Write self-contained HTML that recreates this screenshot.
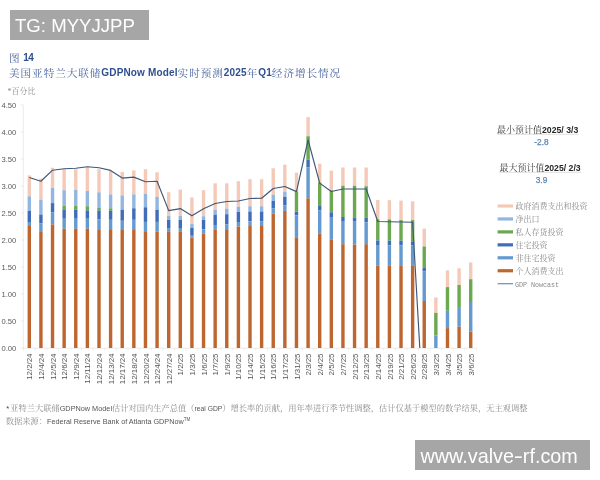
<!DOCTYPE html>
<html lang="zh"><head><meta charset="utf-8"><title>图 14</title>
<style>
html,body{margin:0;padding:0;background:#fff;}
body{width:600px;height:480px;overflow:hidden;position:relative;font-family:"Liberation Sans","Noto Serif CJK SC",sans-serif;}
svg{position:absolute;left:0;top:0;}
.wm1{position:absolute;left:10px;top:10px;width:138.5px;height:30px;background:#a6a6a6;color:#fff;font:18.6px/31px "Liberation Sans",sans-serif;box-sizing:border-box;padding-left:5px;white-space:nowrap;}
.wm2{position:absolute;left:415px;top:440px;width:175px;height:29.5px;overflow:hidden;background:#a6a6a6;color:#fff;font:19.8px/32.6px "Liberation Sans",sans-serif;box-sizing:border-box;padding-left:5.5px;white-space:nowrap;}
.t{position:absolute;left:9px;white-space:nowrap;color:#46639c;font-family:"Noto Serif CJK SC","Liberation Serif",serif;font-size:10.6px;letter-spacing:0.95px;line-height:14px;font-weight:400;}
.t b{font-family:"Liberation Sans",sans-serif;font-weight:700;font-size:10px;color:#2f4f8f;letter-spacing:0.15px;position:relative;top:-0.8px;}
.unit{position:absolute;left:7.5px;top:85.8px;font-family:"Liberation Serif","Noto Serif CJK SC",serif;font-size:8px;line-height:12px;color:#8a8a8a;white-space:nowrap;}
.fn{position:absolute;left:7px;white-space:nowrap;font-family:"Noto Serif CJK SC","Liberation Serif",serif;font-size:8.25px;line-height:12px;color:#8c8c8c;}
.fn span{font-family:"Liberation Sans",sans-serif;font-size:7.3px;color:#555;}
.fn sup{font-size:4.5px;vertical-align:3px;line-height:0;}
.yl{font-family:"Liberation Sans",sans-serif;font-size:7.6px;fill:#595959;}
.xl{font-family:"Liberation Sans",sans-serif;font-size:7.9px;fill:#555;}
.lg{font-family:"Noto Serif CJK SC","Liberation Serif",serif;font-size:8px;fill:#8a8a8a;}
.lgm{font-family:"Liberation Mono",monospace;font-size:7.6px;fill:#8a8a8a;}
.rt{position:absolute;white-space:nowrap;font-family:"Noto Serif CJK SC","Liberation Serif",serif;font-size:9px;line-height:11px;color:#3a3a3a;text-align:center;}
.rt b{font-family:"Liberation Sans",sans-serif;font-weight:700;font-size:8.7px;color:#262626;}
.rv{position:absolute;white-space:nowrap;font-family:"Liberation Sans",sans-serif;font-size:8.3px;line-height:10px;color:#5b84b1;-webkit-text-stroke:0.25px #5b84b1;text-align:center;width:40px;}
</style></head>
<body>
<svg width="600" height="480" viewBox="0 0 600 480">
<line x1="23.3" y1="105" x2="23.3" y2="348" stroke="#e6e6e6" stroke-width="0.8"/>
<line x1="23.3" y1="348.2" x2="476.5" y2="348.2" stroke="#e6e6e6" stroke-width="0.8"/>
<line x1="20.6" y1="348" x2="23.3" y2="348" stroke="#e6e6e6" stroke-width="0.8"/>
<text x="16.2" y="350.8" text-anchor="end" class="yl">0.00</text>
<line x1="20.6" y1="321" x2="23.3" y2="321" stroke="#e6e6e6" stroke-width="0.8"/>
<text x="16.2" y="323.8" text-anchor="end" class="yl">0.50</text>
<line x1="20.6" y1="294" x2="23.3" y2="294" stroke="#e6e6e6" stroke-width="0.8"/>
<text x="16.2" y="296.8" text-anchor="end" class="yl">1.00</text>
<line x1="20.6" y1="267" x2="23.3" y2="267" stroke="#e6e6e6" stroke-width="0.8"/>
<text x="16.2" y="269.8" text-anchor="end" class="yl">1.50</text>
<line x1="20.6" y1="240" x2="23.3" y2="240" stroke="#e6e6e6" stroke-width="0.8"/>
<text x="16.2" y="242.8" text-anchor="end" class="yl">2.00</text>
<line x1="20.6" y1="213" x2="23.3" y2="213" stroke="#e6e6e6" stroke-width="0.8"/>
<text x="16.2" y="215.8" text-anchor="end" class="yl">2.50</text>
<line x1="20.6" y1="186" x2="23.3" y2="186" stroke="#e6e6e6" stroke-width="0.8"/>
<text x="16.2" y="188.8" text-anchor="end" class="yl">3.00</text>
<line x1="20.6" y1="159" x2="23.3" y2="159" stroke="#e6e6e6" stroke-width="0.8"/>
<text x="16.2" y="161.8" text-anchor="end" class="yl">3.50</text>
<line x1="20.6" y1="132" x2="23.3" y2="132" stroke="#e6e6e6" stroke-width="0.8"/>
<text x="16.2" y="134.8" text-anchor="end" class="yl">4.00</text>
<line x1="20.6" y1="105" x2="23.3" y2="105" stroke="#e6e6e6" stroke-width="0.8"/>
<text x="16.2" y="107.8" text-anchor="end" class="yl">4.50</text>
<line x1="23.49" y1="348" x2="23.49" y2="350.5" stroke="#e6e6e6" stroke-width="0.8"/>
<line x1="35.11" y1="348" x2="35.11" y2="350.5" stroke="#e6e6e6" stroke-width="0.8"/>
<line x1="46.72" y1="348" x2="46.72" y2="350.5" stroke="#e6e6e6" stroke-width="0.8"/>
<line x1="58.34" y1="348" x2="58.34" y2="350.5" stroke="#e6e6e6" stroke-width="0.8"/>
<line x1="69.96" y1="348" x2="69.96" y2="350.5" stroke="#e6e6e6" stroke-width="0.8"/>
<line x1="81.57" y1="348" x2="81.57" y2="350.5" stroke="#e6e6e6" stroke-width="0.8"/>
<line x1="93.19" y1="348" x2="93.19" y2="350.5" stroke="#e6e6e6" stroke-width="0.8"/>
<line x1="104.80" y1="348" x2="104.80" y2="350.5" stroke="#e6e6e6" stroke-width="0.8"/>
<line x1="116.42" y1="348" x2="116.42" y2="350.5" stroke="#e6e6e6" stroke-width="0.8"/>
<line x1="128.04" y1="348" x2="128.04" y2="350.5" stroke="#e6e6e6" stroke-width="0.8"/>
<line x1="139.65" y1="348" x2="139.65" y2="350.5" stroke="#e6e6e6" stroke-width="0.8"/>
<line x1="151.27" y1="348" x2="151.27" y2="350.5" stroke="#e6e6e6" stroke-width="0.8"/>
<line x1="162.88" y1="348" x2="162.88" y2="350.5" stroke="#e6e6e6" stroke-width="0.8"/>
<line x1="174.50" y1="348" x2="174.50" y2="350.5" stroke="#e6e6e6" stroke-width="0.8"/>
<line x1="186.12" y1="348" x2="186.12" y2="350.5" stroke="#e6e6e6" stroke-width="0.8"/>
<line x1="197.73" y1="348" x2="197.73" y2="350.5" stroke="#e6e6e6" stroke-width="0.8"/>
<line x1="209.35" y1="348" x2="209.35" y2="350.5" stroke="#e6e6e6" stroke-width="0.8"/>
<line x1="220.96" y1="348" x2="220.96" y2="350.5" stroke="#e6e6e6" stroke-width="0.8"/>
<line x1="232.58" y1="348" x2="232.58" y2="350.5" stroke="#e6e6e6" stroke-width="0.8"/>
<line x1="244.20" y1="348" x2="244.20" y2="350.5" stroke="#e6e6e6" stroke-width="0.8"/>
<line x1="255.81" y1="348" x2="255.81" y2="350.5" stroke="#e6e6e6" stroke-width="0.8"/>
<line x1="267.43" y1="348" x2="267.43" y2="350.5" stroke="#e6e6e6" stroke-width="0.8"/>
<line x1="279.04" y1="348" x2="279.04" y2="350.5" stroke="#e6e6e6" stroke-width="0.8"/>
<line x1="290.66" y1="348" x2="290.66" y2="350.5" stroke="#e6e6e6" stroke-width="0.8"/>
<line x1="302.28" y1="348" x2="302.28" y2="350.5" stroke="#e6e6e6" stroke-width="0.8"/>
<line x1="313.89" y1="348" x2="313.89" y2="350.5" stroke="#e6e6e6" stroke-width="0.8"/>
<line x1="325.51" y1="348" x2="325.51" y2="350.5" stroke="#e6e6e6" stroke-width="0.8"/>
<line x1="337.12" y1="348" x2="337.12" y2="350.5" stroke="#e6e6e6" stroke-width="0.8"/>
<line x1="348.74" y1="348" x2="348.74" y2="350.5" stroke="#e6e6e6" stroke-width="0.8"/>
<line x1="360.36" y1="348" x2="360.36" y2="350.5" stroke="#e6e6e6" stroke-width="0.8"/>
<line x1="371.97" y1="348" x2="371.97" y2="350.5" stroke="#e6e6e6" stroke-width="0.8"/>
<line x1="383.59" y1="348" x2="383.59" y2="350.5" stroke="#e6e6e6" stroke-width="0.8"/>
<line x1="395.20" y1="348" x2="395.20" y2="350.5" stroke="#e6e6e6" stroke-width="0.8"/>
<line x1="406.82" y1="348" x2="406.82" y2="350.5" stroke="#e6e6e6" stroke-width="0.8"/>
<line x1="418.44" y1="348" x2="418.44" y2="350.5" stroke="#e6e6e6" stroke-width="0.8"/>
<line x1="430.05" y1="348" x2="430.05" y2="350.5" stroke="#e6e6e6" stroke-width="0.8"/>
<line x1="441.67" y1="348" x2="441.67" y2="350.5" stroke="#e6e6e6" stroke-width="0.8"/>
<line x1="453.28" y1="348" x2="453.28" y2="350.5" stroke="#e6e6e6" stroke-width="0.8"/>
<line x1="464.90" y1="348" x2="464.90" y2="350.5" stroke="#e6e6e6" stroke-width="0.8"/>
<line x1="476.52" y1="348" x2="476.52" y2="350.5" stroke="#e6e6e6" stroke-width="0.8"/>
<rect x="27.60" y="175.40" width="3.4" height="20.90" fill="#f4c9b8"/>
<rect x="27.60" y="196.30" width="3.4" height="14.40" fill="#92b6e0"/>
<rect x="27.60" y="210.70" width="3.4" height="11.30" fill="#3f6db8"/>
<rect x="27.60" y="222.00" width="3.4" height="4.00" fill="#649acf"/>
<rect x="27.60" y="226.00" width="3.4" height="122.00" fill="#bd6630"/>
<rect x="39.22" y="178.60" width="3.4" height="21.00" fill="#f4c9b8"/>
<rect x="39.22" y="199.60" width="3.4" height="15.00" fill="#92b6e0"/>
<rect x="39.22" y="214.60" width="3.4" height="8.80" fill="#3f6db8"/>
<rect x="39.22" y="223.40" width="3.4" height="8.60" fill="#649acf"/>
<rect x="39.22" y="232.00" width="3.4" height="116.00" fill="#bd6630"/>
<rect x="50.83" y="167.70" width="3.4" height="20.20" fill="#f4c9b8"/>
<rect x="50.83" y="187.90" width="3.4" height="15.20" fill="#92b6e0"/>
<rect x="50.83" y="203.10" width="3.4" height="9.40" fill="#3f6db8"/>
<rect x="50.83" y="212.50" width="3.4" height="11.90" fill="#649acf"/>
<rect x="50.83" y="224.40" width="3.4" height="123.60" fill="#bd6630"/>
<rect x="62.45" y="169.20" width="3.4" height="21.00" fill="#f4c9b8"/>
<rect x="62.45" y="190.20" width="3.4" height="15.60" fill="#92b6e0"/>
<rect x="62.45" y="205.80" width="3.4" height="3.60" fill="#6ca850"/>
<rect x="62.45" y="209.40" width="3.4" height="9.35" fill="#3f6db8"/>
<rect x="62.45" y="218.75" width="3.4" height="10.00" fill="#649acf"/>
<rect x="62.45" y="228.75" width="3.4" height="119.25" fill="#bd6630"/>
<rect x="74.06" y="169.20" width="3.4" height="20.80" fill="#f4c9b8"/>
<rect x="74.06" y="190.00" width="3.4" height="15.80" fill="#92b6e0"/>
<rect x="74.06" y="205.80" width="3.4" height="4.00" fill="#6ca850"/>
<rect x="74.06" y="209.80" width="3.4" height="8.95" fill="#3f6db8"/>
<rect x="74.06" y="218.75" width="3.4" height="10.00" fill="#649acf"/>
<rect x="74.06" y="228.75" width="3.4" height="119.25" fill="#bd6630"/>
<rect x="85.68" y="167.70" width="3.4" height="23.30" fill="#f4c9b8"/>
<rect x="85.68" y="191.00" width="3.4" height="15.25" fill="#92b6e0"/>
<rect x="85.68" y="206.25" width="3.4" height="4.15" fill="#6ca850"/>
<rect x="85.68" y="210.40" width="3.4" height="8.35" fill="#3f6db8"/>
<rect x="85.68" y="218.75" width="3.4" height="10.00" fill="#649acf"/>
<rect x="85.68" y="228.75" width="3.4" height="119.25" fill="#bd6630"/>
<rect x="97.30" y="169.20" width="3.4" height="23.10" fill="#f4c9b8"/>
<rect x="97.30" y="192.30" width="3.4" height="15.60" fill="#92b6e0"/>
<rect x="97.30" y="207.90" width="3.4" height="2.50" fill="#6ca850"/>
<rect x="97.30" y="210.40" width="3.4" height="8.80" fill="#3f6db8"/>
<rect x="97.30" y="219.20" width="3.4" height="10.00" fill="#649acf"/>
<rect x="97.30" y="229.20" width="3.4" height="118.80" fill="#bd6630"/>
<rect x="108.91" y="170.80" width="3.4" height="23.60" fill="#f4c9b8"/>
<rect x="108.91" y="194.40" width="3.4" height="13.90" fill="#92b6e0"/>
<rect x="108.91" y="208.30" width="3.4" height="2.50" fill="#6ca850"/>
<rect x="108.91" y="210.80" width="3.4" height="9.00" fill="#3f6db8"/>
<rect x="108.91" y="219.80" width="3.4" height="9.40" fill="#649acf"/>
<rect x="108.91" y="229.20" width="3.4" height="118.80" fill="#bd6630"/>
<rect x="120.53" y="171.90" width="3.4" height="23.50" fill="#f4c9b8"/>
<rect x="120.53" y="195.40" width="3.4" height="14.40" fill="#92b6e0"/>
<rect x="120.53" y="209.80" width="3.4" height="11.00" fill="#3f6db8"/>
<rect x="120.53" y="220.80" width="3.4" height="8.40" fill="#649acf"/>
<rect x="120.53" y="229.20" width="3.4" height="118.80" fill="#bd6630"/>
<rect x="132.14" y="170.40" width="3.4" height="24.00" fill="#f4c9b8"/>
<rect x="132.14" y="194.40" width="3.4" height="13.90" fill="#92b6e0"/>
<rect x="132.14" y="208.30" width="3.4" height="11.50" fill="#3f6db8"/>
<rect x="132.14" y="219.80" width="3.4" height="9.40" fill="#649acf"/>
<rect x="132.14" y="229.20" width="3.4" height="118.80" fill="#bd6630"/>
<rect x="143.76" y="169.20" width="3.4" height="24.55" fill="#f4c9b8"/>
<rect x="143.76" y="193.75" width="3.4" height="13.55" fill="#92b6e0"/>
<rect x="143.76" y="207.30" width="3.4" height="14.60" fill="#3f6db8"/>
<rect x="143.76" y="221.90" width="3.4" height="9.35" fill="#649acf"/>
<rect x="143.76" y="231.25" width="3.4" height="116.75" fill="#bd6630"/>
<rect x="155.38" y="172.30" width="3.4" height="24.60" fill="#f4c9b8"/>
<rect x="155.38" y="196.90" width="3.4" height="12.90" fill="#92b6e0"/>
<rect x="155.38" y="209.80" width="3.4" height="12.10" fill="#3f6db8"/>
<rect x="155.38" y="221.90" width="3.4" height="9.80" fill="#649acf"/>
<rect x="155.38" y="231.70" width="3.4" height="116.30" fill="#bd6630"/>
<rect x="166.99" y="192.20" width="3.4" height="23.80" fill="#f4c9b8"/>
<rect x="166.99" y="216.00" width="3.4" height="4.00" fill="#92b6e0"/>
<rect x="166.99" y="220.00" width="3.4" height="8.10" fill="#3f6db8"/>
<rect x="166.99" y="228.10" width="3.4" height="3.80" fill="#649acf"/>
<rect x="166.99" y="231.90" width="3.4" height="116.10" fill="#bd6630"/>
<rect x="178.61" y="189.60" width="3.4" height="26.40" fill="#f4c9b8"/>
<rect x="178.61" y="216.00" width="3.4" height="4.00" fill="#92b6e0"/>
<rect x="178.61" y="220.00" width="3.4" height="8.00" fill="#3f6db8"/>
<rect x="178.61" y="228.00" width="3.4" height="3.90" fill="#649acf"/>
<rect x="178.61" y="231.90" width="3.4" height="116.10" fill="#bd6630"/>
<rect x="190.22" y="197.50" width="3.4" height="26.50" fill="#f4c9b8"/>
<rect x="190.22" y="224.00" width="3.4" height="3.70" fill="#92b6e0"/>
<rect x="190.22" y="227.70" width="3.4" height="7.30" fill="#3f6db8"/>
<rect x="190.22" y="235.00" width="3.4" height="2.50" fill="#649acf"/>
<rect x="190.22" y="237.50" width="3.4" height="110.50" fill="#bd6630"/>
<rect x="201.84" y="190.20" width="3.4" height="26.05" fill="#f4c9b8"/>
<rect x="201.84" y="216.25" width="3.4" height="3.75" fill="#92b6e0"/>
<rect x="201.84" y="220.00" width="3.4" height="9.40" fill="#3f6db8"/>
<rect x="201.84" y="229.40" width="3.4" height="4.35" fill="#649acf"/>
<rect x="201.84" y="233.75" width="3.4" height="114.25" fill="#bd6630"/>
<rect x="213.46" y="183.30" width="3.4" height="26.40" fill="#f4c9b8"/>
<rect x="213.46" y="209.70" width="3.4" height="5.10" fill="#92b6e0"/>
<rect x="213.46" y="214.80" width="3.4" height="10.20" fill="#3f6db8"/>
<rect x="213.46" y="225.00" width="3.4" height="4.30" fill="#649acf"/>
<rect x="213.46" y="229.30" width="3.4" height="118.70" fill="#bd6630"/>
<rect x="225.07" y="183.30" width="3.4" height="25.45" fill="#f4c9b8"/>
<rect x="225.07" y="208.75" width="3.4" height="5.45" fill="#92b6e0"/>
<rect x="225.07" y="214.20" width="3.4" height="10.30" fill="#3f6db8"/>
<rect x="225.07" y="224.50" width="3.4" height="4.70" fill="#649acf"/>
<rect x="225.07" y="229.20" width="3.4" height="118.80" fill="#bd6630"/>
<rect x="236.69" y="181.25" width="3.4" height="25.45" fill="#f4c9b8"/>
<rect x="236.69" y="206.70" width="3.4" height="5.20" fill="#92b6e0"/>
<rect x="236.69" y="211.90" width="3.4" height="10.10" fill="#3f6db8"/>
<rect x="236.69" y="222.00" width="3.4" height="4.50" fill="#649acf"/>
<rect x="236.69" y="226.50" width="3.4" height="121.50" fill="#bd6630"/>
<rect x="248.30" y="179.20" width="3.4" height="27.05" fill="#f4c9b8"/>
<rect x="248.30" y="206.25" width="3.4" height="5.25" fill="#92b6e0"/>
<rect x="248.30" y="211.50" width="3.4" height="10.00" fill="#3f6db8"/>
<rect x="248.30" y="221.50" width="3.4" height="4.50" fill="#649acf"/>
<rect x="248.30" y="226.00" width="3.4" height="122.00" fill="#bd6630"/>
<rect x="259.92" y="179.20" width="3.4" height="27.05" fill="#f4c9b8"/>
<rect x="259.92" y="206.25" width="3.4" height="5.25" fill="#92b6e0"/>
<rect x="259.92" y="211.50" width="3.4" height="10.00" fill="#3f6db8"/>
<rect x="259.92" y="221.50" width="3.4" height="4.50" fill="#649acf"/>
<rect x="259.92" y="226.00" width="3.4" height="122.00" fill="#bd6630"/>
<rect x="271.54" y="168.30" width="3.4" height="26.50" fill="#f4c9b8"/>
<rect x="271.54" y="194.80" width="3.4" height="6.20" fill="#92b6e0"/>
<rect x="271.54" y="201.00" width="3.4" height="7.30" fill="#3f6db8"/>
<rect x="271.54" y="208.30" width="3.4" height="5.20" fill="#649acf"/>
<rect x="271.54" y="213.50" width="3.4" height="134.50" fill="#bd6630"/>
<rect x="283.15" y="164.60" width="3.4" height="27.10" fill="#f4c9b8"/>
<rect x="283.15" y="191.70" width="3.4" height="5.20" fill="#92b6e0"/>
<rect x="283.15" y="196.90" width="3.4" height="8.30" fill="#3f6db8"/>
<rect x="283.15" y="205.20" width="3.4" height="5.70" fill="#649acf"/>
<rect x="283.15" y="210.90" width="3.4" height="137.10" fill="#bd6630"/>
<rect x="294.77" y="172.60" width="3.4" height="18.90" fill="#f4c9b8"/>
<rect x="294.77" y="191.50" width="3.4" height="20.20" fill="#6ca850"/>
<rect x="294.77" y="211.70" width="3.4" height="3.70" fill="#3f6db8"/>
<rect x="294.77" y="215.40" width="3.4" height="21.90" fill="#649acf"/>
<rect x="294.77" y="237.30" width="3.4" height="110.70" fill="#bd6630"/>
<rect x="306.38" y="117.10" width="3.4" height="19.15" fill="#f4c9b8"/>
<rect x="306.38" y="136.25" width="3.4" height="23.35" fill="#6ca850"/>
<rect x="306.38" y="159.60" width="3.4" height="7.90" fill="#3f6db8"/>
<rect x="306.38" y="167.50" width="3.4" height="30.80" fill="#649acf"/>
<rect x="306.38" y="198.30" width="3.4" height="149.70" fill="#bd6630"/>
<rect x="318.00" y="163.75" width="3.4" height="18.75" fill="#f4c9b8"/>
<rect x="318.00" y="182.50" width="3.4" height="22.90" fill="#6ca850"/>
<rect x="318.00" y="205.40" width="3.4" height="4.80" fill="#3f6db8"/>
<rect x="318.00" y="210.20" width="3.4" height="23.55" fill="#649acf"/>
<rect x="318.00" y="233.75" width="3.4" height="114.25" fill="#bd6630"/>
<rect x="329.62" y="170.60" width="3.4" height="19.80" fill="#f4c9b8"/>
<rect x="329.62" y="190.40" width="3.4" height="21.90" fill="#6ca850"/>
<rect x="329.62" y="212.30" width="3.4" height="4.70" fill="#3f6db8"/>
<rect x="329.62" y="217.00" width="3.4" height="22.40" fill="#649acf"/>
<rect x="329.62" y="239.40" width="3.4" height="108.60" fill="#bd6630"/>
<rect x="341.23" y="167.50" width="3.4" height="18.30" fill="#f4c9b8"/>
<rect x="341.23" y="185.80" width="3.4" height="31.20" fill="#6ca850"/>
<rect x="341.23" y="217.00" width="3.4" height="4.70" fill="#3f6db8"/>
<rect x="341.23" y="221.70" width="3.4" height="22.50" fill="#649acf"/>
<rect x="341.23" y="244.20" width="3.4" height="103.80" fill="#bd6630"/>
<rect x="352.85" y="167.50" width="3.4" height="18.30" fill="#f4c9b8"/>
<rect x="352.85" y="185.80" width="3.4" height="31.70" fill="#6ca850"/>
<rect x="352.85" y="217.50" width="3.4" height="4.20" fill="#3f6db8"/>
<rect x="352.85" y="221.70" width="3.4" height="22.90" fill="#649acf"/>
<rect x="352.85" y="244.60" width="3.4" height="103.40" fill="#bd6630"/>
<rect x="364.46" y="167.50" width="3.4" height="18.75" fill="#f4c9b8"/>
<rect x="364.46" y="186.25" width="3.4" height="31.25" fill="#6ca850"/>
<rect x="364.46" y="217.50" width="3.4" height="4.80" fill="#3f6db8"/>
<rect x="364.46" y="222.30" width="3.4" height="21.90" fill="#649acf"/>
<rect x="364.46" y="244.20" width="3.4" height="103.80" fill="#bd6630"/>
<rect x="376.08" y="200.00" width="3.4" height="19.30" fill="#f4c9b8"/>
<rect x="376.08" y="219.30" width="3.4" height="21.20" fill="#6ca850"/>
<rect x="376.08" y="240.50" width="3.4" height="4.50" fill="#3f6db8"/>
<rect x="376.08" y="245.00" width="3.4" height="20.40" fill="#649acf"/>
<rect x="376.08" y="265.40" width="3.4" height="82.60" fill="#bd6630"/>
<rect x="387.70" y="200.20" width="3.4" height="19.20" fill="#f4c9b8"/>
<rect x="387.70" y="219.40" width="3.4" height="21.30" fill="#6ca850"/>
<rect x="387.70" y="240.70" width="3.4" height="4.60" fill="#3f6db8"/>
<rect x="387.70" y="245.30" width="3.4" height="20.10" fill="#649acf"/>
<rect x="387.70" y="265.40" width="3.4" height="82.60" fill="#bd6630"/>
<rect x="399.31" y="200.60" width="3.4" height="19.50" fill="#f4c9b8"/>
<rect x="399.31" y="220.10" width="3.4" height="20.60" fill="#6ca850"/>
<rect x="399.31" y="240.70" width="3.4" height="4.60" fill="#3f6db8"/>
<rect x="399.31" y="245.30" width="3.4" height="20.00" fill="#649acf"/>
<rect x="399.31" y="265.30" width="3.4" height="82.70" fill="#bd6630"/>
<rect x="410.93" y="201.30" width="3.4" height="18.80" fill="#f4c9b8"/>
<rect x="410.93" y="220.10" width="3.4" height="21.30" fill="#6ca850"/>
<rect x="410.93" y="241.40" width="3.4" height="4.10" fill="#3f6db8"/>
<rect x="410.93" y="245.50" width="3.4" height="19.80" fill="#649acf"/>
<rect x="410.93" y="265.30" width="3.4" height="82.70" fill="#bd6630"/>
<rect x="422.54" y="228.60" width="3.4" height="17.90" fill="#f4c9b8"/>
<rect x="422.54" y="246.50" width="3.4" height="21.50" fill="#6ca850"/>
<rect x="422.54" y="268.00" width="3.4" height="3.20" fill="#3f6db8"/>
<rect x="422.54" y="271.20" width="3.4" height="29.80" fill="#649acf"/>
<rect x="422.54" y="301.00" width="3.4" height="47.00" fill="#bd6630"/>
<rect x="434.16" y="297.50" width="3.4" height="15.40" fill="#f4c9b8"/>
<rect x="434.16" y="312.90" width="3.4" height="22.50" fill="#6ca850"/>
<rect x="434.16" y="335.40" width="3.4" height="12.60" fill="#649acf"/>
<rect x="445.78" y="270.40" width="3.4" height="16.70" fill="#f4c9b8"/>
<rect x="445.78" y="287.10" width="3.4" height="23.70" fill="#6ca850"/>
<rect x="445.78" y="310.80" width="3.4" height="17.30" fill="#649acf"/>
<rect x="445.78" y="328.10" width="3.4" height="19.90" fill="#bd6630"/>
<rect x="457.39" y="268.30" width="3.4" height="16.70" fill="#f4c9b8"/>
<rect x="457.39" y="285.00" width="3.4" height="22.90" fill="#6ca850"/>
<rect x="457.39" y="307.90" width="3.4" height="18.80" fill="#649acf"/>
<rect x="457.39" y="326.70" width="3.4" height="21.30" fill="#bd6630"/>
<rect x="469.01" y="262.50" width="3.4" height="16.70" fill="#f4c9b8"/>
<rect x="469.01" y="279.20" width="3.4" height="22.80" fill="#6ca850"/>
<rect x="469.01" y="302.00" width="3.4" height="29.70" fill="#649acf"/>
<rect x="469.01" y="331.70" width="3.4" height="16.30" fill="#bd6630"/>
<polyline points="29.30,177.50 40.92,181.25 52.53,170.20 64.15,168.75 75.76,168.30 87.38,166.70 99.00,167.70 110.61,170.40 122.23,178.10 133.84,177.10 145.46,181.70 157.08,181.25 168.69,210.60 180.31,208.60 191.92,215.80 203.54,208.80 215.16,203.50 226.77,201.50 238.39,201.00 250.00,198.50 261.62,198.30 273.24,188.50 284.85,186.50 296.47,191.60 308.08,140.00 319.70,183.10 331.32,191.50 342.93,189.00 354.55,189.00 366.16,189.00 377.78,221.50 389.40,221.80 401.01,222.00 412.63,222.30 419.8,348" fill="none" stroke="#3d5878" stroke-width="1.15" stroke-linejoin="round"/>
<text transform="translate(32.40,353.5) rotate(-90)" text-anchor="end" class="xl">12/2/24</text>
<text transform="translate(44.02,353.5) rotate(-90)" text-anchor="end" class="xl">12/4/24</text>
<text transform="translate(55.63,353.5) rotate(-90)" text-anchor="end" class="xl">12/5/24</text>
<text transform="translate(67.25,353.5) rotate(-90)" text-anchor="end" class="xl">12/6/24</text>
<text transform="translate(78.86,353.5) rotate(-90)" text-anchor="end" class="xl">12/9/24</text>
<text transform="translate(90.48,353.5) rotate(-90)" text-anchor="end" class="xl">12/11/24</text>
<text transform="translate(102.10,353.5) rotate(-90)" text-anchor="end" class="xl">12/12/24</text>
<text transform="translate(113.71,353.5) rotate(-90)" text-anchor="end" class="xl">12/13/24</text>
<text transform="translate(125.33,353.5) rotate(-90)" text-anchor="end" class="xl">12/17/24</text>
<text transform="translate(136.94,353.5) rotate(-90)" text-anchor="end" class="xl">12/18/24</text>
<text transform="translate(148.56,353.5) rotate(-90)" text-anchor="end" class="xl">12/20/24</text>
<text transform="translate(160.18,353.5) rotate(-90)" text-anchor="end" class="xl">12/24/24</text>
<text transform="translate(171.79,353.5) rotate(-90)" text-anchor="end" class="xl">12/27/24</text>
<text transform="translate(183.41,353.5) rotate(-90)" text-anchor="end" class="xl">1/2/25</text>
<text transform="translate(195.02,353.5) rotate(-90)" text-anchor="end" class="xl">1/3/25</text>
<text transform="translate(206.64,353.5) rotate(-90)" text-anchor="end" class="xl">1/6/25</text>
<text transform="translate(218.26,353.5) rotate(-90)" text-anchor="end" class="xl">1/7/25</text>
<text transform="translate(229.87,353.5) rotate(-90)" text-anchor="end" class="xl">1/9/25</text>
<text transform="translate(241.49,353.5) rotate(-90)" text-anchor="end" class="xl">1/10/25</text>
<text transform="translate(253.10,353.5) rotate(-90)" text-anchor="end" class="xl">1/14/25</text>
<text transform="translate(264.72,353.5) rotate(-90)" text-anchor="end" class="xl">1/15/25</text>
<text transform="translate(276.34,353.5) rotate(-90)" text-anchor="end" class="xl">1/16/25</text>
<text transform="translate(287.95,353.5) rotate(-90)" text-anchor="end" class="xl">1/17/25</text>
<text transform="translate(299.57,353.5) rotate(-90)" text-anchor="end" class="xl">1/31/25</text>
<text transform="translate(311.18,353.5) rotate(-90)" text-anchor="end" class="xl">2/3/25</text>
<text transform="translate(322.80,353.5) rotate(-90)" text-anchor="end" class="xl">2/4/25</text>
<text transform="translate(334.42,353.5) rotate(-90)" text-anchor="end" class="xl">2/5/25</text>
<text transform="translate(346.03,353.5) rotate(-90)" text-anchor="end" class="xl">2/7/25</text>
<text transform="translate(357.65,353.5) rotate(-90)" text-anchor="end" class="xl">2/12/25</text>
<text transform="translate(369.26,353.5) rotate(-90)" text-anchor="end" class="xl">2/13/25</text>
<text transform="translate(380.88,353.5) rotate(-90)" text-anchor="end" class="xl">2/14/25</text>
<text transform="translate(392.50,353.5) rotate(-90)" text-anchor="end" class="xl">2/19/25</text>
<text transform="translate(404.11,353.5) rotate(-90)" text-anchor="end" class="xl">2/21/25</text>
<text transform="translate(415.73,353.5) rotate(-90)" text-anchor="end" class="xl">2/26/25</text>
<text transform="translate(427.34,353.5) rotate(-90)" text-anchor="end" class="xl">2/28/25</text>
<text transform="translate(438.96,353.5) rotate(-90)" text-anchor="end" class="xl">3/3/25</text>
<text transform="translate(450.58,353.5) rotate(-90)" text-anchor="end" class="xl">3/4/25</text>
<text transform="translate(462.19,353.5) rotate(-90)" text-anchor="end" class="xl">3/5/25</text>
<text transform="translate(473.81,353.5) rotate(-90)" text-anchor="end" class="xl">3/6/25</text>
<rect x="497.6" y="204.40" width="15.4" height="3.2" fill="#f4c9b8"/>
<text x="515.6" y="209.00" class="lg">政府消费支出和投资</text>
<rect x="497.6" y="217.35" width="15.4" height="3.2" fill="#92b6e0"/>
<text x="515.6" y="221.95" class="lg">净出口</text>
<rect x="497.6" y="230.30" width="15.4" height="3.2" fill="#6ca850"/>
<text x="515.6" y="234.90" class="lg">私人存货投资</text>
<rect x="497.6" y="243.25" width="15.4" height="3.2" fill="#3f6db8"/>
<text x="515.6" y="247.85" class="lg">住宅投资</text>
<rect x="497.6" y="256.20" width="15.4" height="3.2" fill="#649acf"/>
<text x="515.6" y="260.80" class="lg">非住宅投资</text>
<rect x="497.6" y="269.15" width="15.4" height="3.2" fill="#bd6630"/>
<text x="515.6" y="273.75" class="lg">个人消费支出</text>
<line x1="497.6" y1="283.70" x2="513" y2="283.70" stroke="#7f93ad" stroke-width="1.3"/>
<text x="515" y="286.50" class="lgm" textLength="44" lengthAdjust="spacingAndGlyphs">GDP Nowcast</text>
<line x1="497" y1="134.3" x2="578.5" y2="134.3" stroke="#d0d0d0" stroke-width="0.7"/>
<line x1="499" y1="172.3" x2="581" y2="172.3" stroke="#d0d0d0" stroke-width="0.7"/>
</svg>
<div class="wm1">TG: MYYJJPP</div>
<div class="t" style="top:50.5px">图 <b style="font-size:10px;letter-spacing:-0.55px;top:-0.2px;margin-left:-1px">14</b></div>
<div class="t" style="top:65.6px">美国亚特兰大联储<b>GDPNow Model</b>实时预测<b>2025</b>年<b>Q1</b>经济增长情况</div>
<div class="unit">*百分比</div>
<div class="rt" style="left:497px;top:123.5px;">最小预计值<b>2025/ 3/3</b></div>
<div class="rv" style="left:521.5px;top:137px;">-2.8</div>
<div class="rt" style="left:499.4px;top:161.5px;">最大预计值<b>2025/ 2/3</b></div>
<div class="rv" style="left:521.5px;top:175px;">3.9</div>
<div class="fn" style="top:402px;left:6.2px"><span style="font-size:7.5px;display:inline-block;width:4px;letter-spacing:0;color:#444">*</span>亚特兰大联储<span>GDPNow Model</span>估计对国内生产总值（<span style="font-size:6.75px">real GDP</span>）增长率的贡献，用年率进行季节性调整，估计仅基于模型的数学结果，无主观调整</div>
<div class="fn" style="top:414.5px;left:5.8px">数据来源：<span style="font-size:7.25px;">Federal Reserve Bank of Atlanta GDPNow<sup>TM</sup></span></div>
<div class="wm2">www.valve<span style="display:inline-block;transform:scaleX(1.4);margin:0 1.15px">-</span>rf.com</div>
</body></html>
